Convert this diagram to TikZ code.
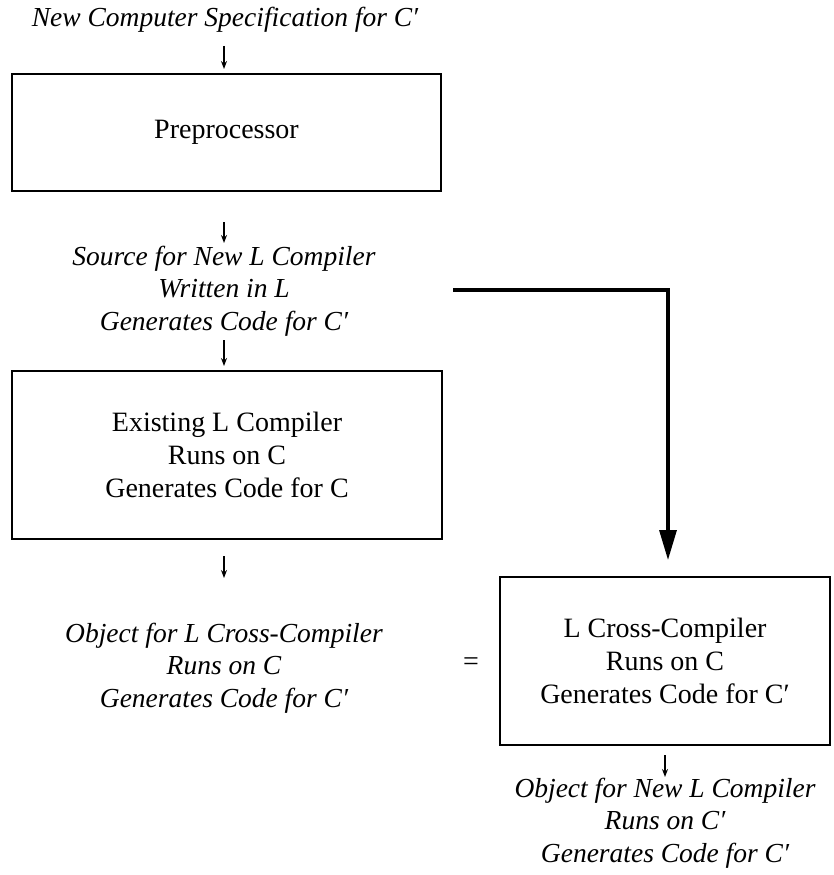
\documentclass[tikz,border=0pt]{standalone}
\usepackage{fontspec}
\setmainfont{Liberation Serif}
\usetikzlibrary{arrows.meta}
\begin{document}
\begin{tikzpicture}[x=1pt,y=-1pt,
  txt/.style={align=center,inner sep=0pt,font=\fontsize{27.5}{32.5}\selectfont\itshape},
  stage/.style={draw,line width=2pt,align=center,inner sep=0pt,font=\fontsize{28}{33}\selectfont},
  flow/.style={line width=1.6pt,-{Stealth[length=8pt,width=6pt]}},
  feed/.style={line width=3.2pt,-{Triangle[length=30pt,width=17pt]}}]
\useasboundingbox (0,0) rectangle (833,875);
% text and boxes of the chain
\node[txt] (spec) at (225,20) {New Computer Specification for C′};
\node[stage,minimum width=429pt,minimum height=117pt] (pre) at (226.5,132.5) {Preprocessor};
\node[txt] (src) at (224,291) {Source for New L Compiler\\Written in L\\Generates Code for C′};
\node[stage,minimum width=430pt,minimum height=168pt] (exist) at (227,455) {Existing L Compiler\\Runs on C\\Generates Code for C};
\node[txt] (obj) at (224,668) {Object for L Cross-Compiler\\Runs on C\\Generates Code for C′};
\node[font=\fontsize{28}{33}\selectfont] (eq) at (471,664) {=};
\node[stage,minimum width=330pt,minimum height=168pt] (cross) at (665,661) {L Cross-Compiler\\Runs on C\\Generates Code for C′};
\node[txt] (newobj) at (665,823) {Object for New L Compiler\\Runs on C′\\Generates Code for C′};
% short down arrows between the stages
\draw[flow,shorten >=4pt] (224,46) -- (pre.north -| 224,0);
\draw[flow] (224,222) -- (224,243);
\draw[flow,shorten >=4pt] (224,340) -- (exist.north -| 224,0);
\draw[flow] (224,556) -- (224,578);
\draw[flow] (665,755) -- (665,777);
% heavy feed from the source into the cross-compiler
\coordinate (tap) at (453,290);
\draw[feed,line cap=butt] (tap) -| ([yshift=16pt]cross.north -| 668,0);
\end{tikzpicture}
\end{document}
